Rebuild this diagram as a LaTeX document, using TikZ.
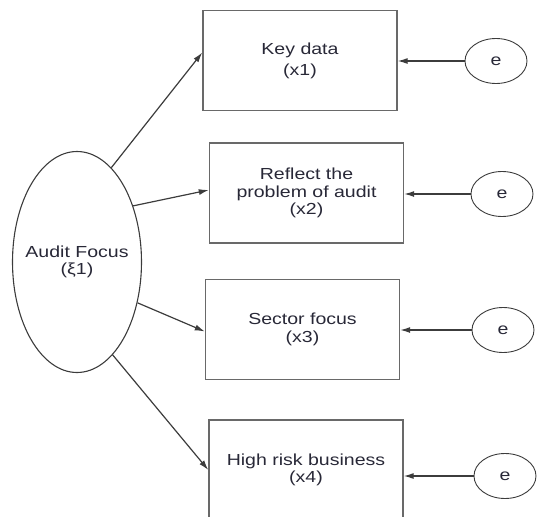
\documentclass[tikz,border=0pt]{standalone}
\usepackage{fontspec}
\newfontfamily\diagfont[FakeStretch=1.22]{Liberation Sans}
\usetikzlibrary{shapes.geometric,arrows.meta,calc}
\definecolor{inkgray}{RGB}{60,60,60}
\definecolor{boxgray}{RGB}{105,105,105}
\definecolor{txtdark}{RGB}{40,40,55}

\begin{document}
\begin{tikzpicture}[x=1pt,y=-1pt,
  every node/.style={font=\diagfont\fontsize{16}{17.5}\selectfont,text=txtdark,align=center},
  item/.style={rectangle,draw=boxgray,line width=1.4pt,minimum width=194pt,minimum height=100pt,inner sep=0pt},
  err/.style={ellipse,draw=inkgray,line width=0.9pt,minimum width=62pt,minimum height=45pt,inner sep=0pt},
  load/.style={draw=inkgray,line width=1.2pt,-{Latex[length=10pt,width=6pt]}}]
\useasboundingbox (0,0) rectangle (539,517);
\clip (0,0) rectangle (539,517);
% latent factor
\node[ellipse,draw=inkgray,line width=1.1pt,minimum width=129pt,minimum height=221pt,inner sep=0pt] (focus) at (77,262) {};
\node (focustxt) at (focus) {Audit Focus\\(ξ1)};
% observed items
\node[item] (x1) at (300,60.5) {\raisebox{-3pt}{\shortstack{Key data\\[3pt](x1)}}};
\node[item] (x2) at (306.5,193) {Reflect the\\problem of audit\\(x2)};
\node[item] (x3) at (302.5,329.5) {Sector focus\\(x3)};
\node[item] (x4) at (306,470) {High risk business\\(x4)};
% error terms
\node[err] (e1) at (496,61) {e};
\node[err] (e2) at (502,194) {e};
\node[err] (e3) at (503,330) {e};
\node[err] (e4) at (505,476) {e};
\draw[load] (focus.70) -- ($(x1.west)+(0,-8)$);
\draw[load] (focus.45) -- ($(x2.west)+(0,-3)$);
\draw[load] (focus.-34) -- ($(x3.west)+(0,2)$);
\draw[load] (focus.-69) -- (x4.west);
\foreach \i in {1,...,4}
  \draw[load] (e\i.west) -- (e\i.west -| x\i.east);
\end{tikzpicture}
\end{document}
